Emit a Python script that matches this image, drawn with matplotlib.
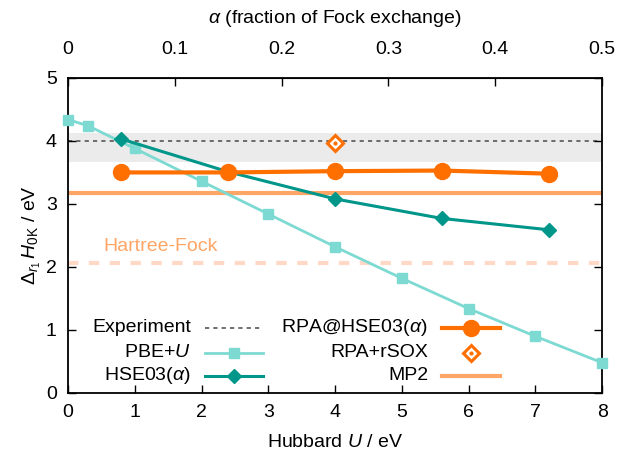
import numpy as np
import matplotlib.pyplot as plt
from matplotlib.lines import Line2D

plt.rcParams['font.family'] = ['Liberation Sans', 'DejaVu Sans']
plt.rcParams['mathtext.fontset'] = 'custom'
plt.rcParams['mathtext.rm'] = 'Liberation Sans'
plt.rcParams['mathtext.it'] = 'Liberation Sans:italic'
plt.rcParams['font.size'] = 14

# PBE+U vs Hubbard U
pbe_u = [0, 0.3, 1, 2, 3, 4, 5, 6, 7, 8]
pbe_e = [4.34, 4.24, 3.88, 3.36, 2.84, 2.32, 1.82, 1.34, 0.90, 0.48]

# HSE03(alpha) and RPA@HSE03(alpha) vs alpha
alpha = [0.05, 0.15, 0.25, 0.35, 0.45]
hse_e = [4.03, 3.51, 3.08, 2.77, 2.59]
rpa_e = [3.50, 3.50, 3.52, 3.53, 3.48]

# RPA+rSOX at alpha = 0.25
rsox_alpha = [0.25]
rsox_e = [3.97]

experiment = 4.0
exp_band = (3.67, 4.12)
mp2 = 3.17
hartree_fock = 2.06

U_PER_ALPHA = 16.0  # top axis: alpha 0..0.5 spans U 0..8

c_pbe = '#7ddad2'
c_hse = '#00968a'
c_rpa = '#ff6f00'
c_mp2 = '#ffa566'
c_hf = '#ffd9c6'

fig = plt.figure(figsize=(6.22, 4.53), dpi=100)
ax = fig.add_axes([0.1093, 0.1325, 0.8587, 0.6955])

ax.axhspan(exp_band[0], exp_band[1], color='#ebebeb', lw=0, zorder=0)
ax.axhline(experiment, color='#555555', ls=(0, (2.5, 2.5)), lw=1.2, zorder=1)
ax.axhline(hartree_fock, color=c_hf, ls=(0, (2.5, 2.5)), lw=3, zorder=1)
ax.axhline(mp2, color=c_mp2, lw=3, zorder=2)

ax.plot(pbe_u, pbe_e, color=c_pbe, lw=2, marker='s', ms=7.5, zorder=3, clip_on=False)
u_alpha = np.array(alpha) * U_PER_ALPHA
ax.plot(u_alpha, hse_e, color=c_hse, lw=2.2, marker='D', ms=7, zorder=4)
ax.plot(u_alpha, rpa_e, color=c_rpa, lw=3, marker='o', ms=11.5, zorder=5)
ax.plot(np.array(rsox_alpha) * U_PER_ALPHA, rsox_e, ls='none', marker='D', ms=8,
        mfc='white', mec=c_rpa, mew=2.2, zorder=6)
ax.plot(np.array(rsox_alpha) * U_PER_ALPHA, rsox_e, ls='none', marker='o', ms=2,
        color=c_rpa, zorder=7)

ax.text(0.53, 2.32, 'Hartree-Fock', color=c_mp2, fontsize=14, va='center', ha='left')

ax.set_xlim(0, 8)
ax.set_ylim(0, 5)
ax.set_xticks(range(0, 9))
ax.set_yticks(range(0, 6))
ax.tick_params(direction='in', length=6, width=1, top=False, right=True,
               labelsize=14, pad=8)
ax.set_xlabel('Hubbard $U$ / eV', fontsize=14, labelpad=9)
ax.set_ylabel(r'$\Delta_{r_1}\,H_{0\mathrm{K}}$ / eV', fontsize=14, labelpad=2)
for s in ax.spines.values():
    s.set_linewidth(1.3)

sec = ax.secondary_xaxis('top', functions=(lambda u: u / U_PER_ALPHA,
                                           lambda a: a * U_PER_ALPHA))
sec.set_xticks([0, 0.1, 0.2, 0.3, 0.4, 0.5])
sec.set_xticklabels(['0', '0.1', '0.2', '0.3', '0.4', '0.5'])
sec.tick_params(direction='in', length=6, width=1, labelsize=14, pad=14)
sec.set_xlabel(r'$\alpha$ (fraction of Fock exchange)', fontsize=14, labelpad=13)

# gnuplot-style legend: right-aligned labels followed by samples
tr = ax.transAxes
def axx(px):
    return (px - 68) / 534.0
def axy(py):
    return (393 - py) / 315.0

entries = [
    (191, 205, 263, 328, 'Experiment', dict(color='#555555', ls=(0, (2.5, 2.5)), lw=1.2), None),
    (191, 205, 263, 353, 'PBE+$U$', dict(color=c_pbe, lw=2), dict(marker='s', ms=7.5, color=c_pbe)),
    (191, 205, 263, 376, r'HSE03($\alpha$)', dict(color=c_hse, lw=2.2), dict(marker='D', ms=7, color=c_hse)),
    (428, 442, 500, 328, r'RPA@HSE03($\alpha$)', dict(color=c_rpa, lw=3), dict(marker='o', ms=11.5, color=c_rpa)),
    (428, 442, 500, 353, 'RPA+rSOX', None, dict(marker='D', ms=8, mfc='white', mec=c_rpa, mew=2.2)),
    (428, 442, 500, 376, 'MP2', dict(color=c_mp2, lw=3), None),
]
for tx, x0, x1, y, label, lstyle, mstyle in entries:
    ax.text(axx(tx), axy(y), label, transform=tr, ha='right', va='center', fontsize=14)
    if lstyle:
        ax.add_line(Line2D([axx(x0), axx(x1)], [axy(y), axy(y)], transform=tr, **lstyle))
    if mstyle:
        ax.add_line(Line2D([axx((x0 + x1) / 2)], [axy(y)], transform=tr, ls='none', **mstyle))
        if label == 'RPA+rSOX':
            ax.add_line(Line2D([axx((x0 + x1) / 2)], [axy(y)], transform=tr, ls='none',
                               marker='o', ms=2, color=c_rpa))

fig.savefig('out.png', dpi=100)
